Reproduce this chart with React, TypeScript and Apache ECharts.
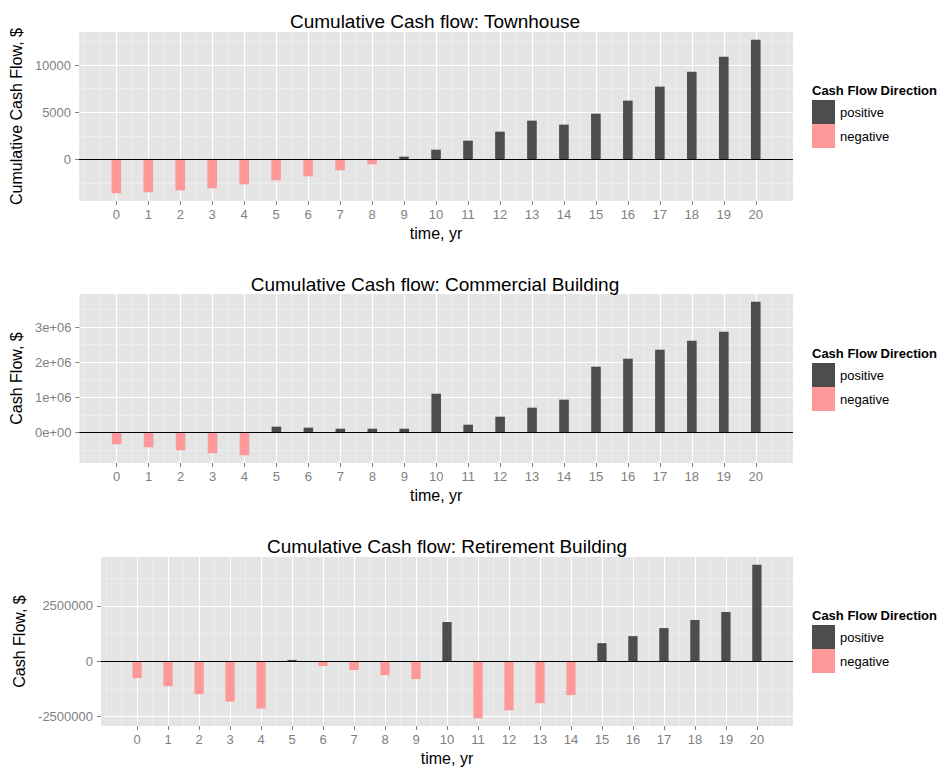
import React, { useEffect, useRef } from "react";
import * as echarts from "echarts";

// ---------- data ----------
const years = [0, 1, 2, 3, 4, 5, 6, 7, 8, 9, 10, 11, 12, 13, 14, 15, 16, 17, 18, 19, 20];
const yearLabels = years.map((y) => String(y));
const xMinorTicks = [-1, -0.5, 0.5, 1.5, 2.5, 3.5, 4.5, 5.5, 6.5, 7.5, 8.5, 9.5, 10.5, 11.5, 12.5, 13.5, 14.5, 15.5, 16.5, 17.5, 18.5, 19.5, 20.5, 21];

const townhouse = [-3560, -3450, -3240, -3030, -2610, -2190, -1760, -1130, -495, 317, 1057, 2008, 2960, 4123, 3700, 4863, 6237, 7717, 9302, 10888, 12685];
const commercial = [-342000, -427000, -513000, -598000, -655000, 161000, 133000, 104000, 104000, 104000, 1100000, 218000, 446000, 703000, 931000, 1871000, 2099000, 2355000, 2612000, 2868000, 3723000];
const retirement = [-758000, -1121000, -1485000, -1818000, -2136000, 60000, -212000, -394000, -621000, -803000, 1773000, -2576000, -2212000, -1894000, -1530000, 818000, 1136000, 1500000, 1864000, 2227000, 4364000];

const titles = [
  "Cumulative Cash flow: Townhouse",
  "Cumulative Cash flow: Commercial Building",
  "Cumulative Cash flow: Retirement Building",
];
const yNames = ["Cumulative Cash Flow, $", "Cash Flow, $", "Cash Flow, $"];

const townhouseYTicks = [0, 5000, 10000];
const townhouseYLabels = ["0", "5000", "10000"];
const townhouseYMinor = [-2500, 2500, 7500, 12500];

const commercialYTicks = [0, 1000000, 2000000, 3000000];
const commercialYLabels = ["0e+00", "1e+06", "2e+06", "3e+06"];
const commercialYMinor = [-500000, 500000, 1500000, 2500000, 3500000];

const retirementYTicks = [-2500000, 0, 2500000];
const retirementYLabels = ["-2500000", "0", "2500000"];
const retirementYMinor = [-1250000, 1250000, 3750000];

const legendTitle = "Cash Flow Direction";
const legendNames = ["positive", "negative"];

// ---------- styling / layout ----------
const FONT = "'Liberation Sans', Arial, Helvetica, sans-serif";
const POS_COLOR = "#4d4d4d";
const NEG_COLOR = "#ff9999";
const PANEL_BG = "#e5e5e5";
const MINOR_COLOR = "#f2f2f2";
const GREY50 = "#7f7f7f";

const layouts = [
  { left: 77, top: 32, width: 716, height: 169, nameGap: 46, titleX: 435, titleY: 21, legTitleY: 90, legTop: 100 },
  { left: 78, top: 294, width: 715, height: 169, nameGap: 47, titleX: 435, titleY: 284, legTitleY: 353, legTop: 363 },
  { left: 101, top: 557, width: 692, height: 169, nameGap: 72, titleX: 447, titleY: 546, legTitleY: 615.5, legTop: 625 },
];

const panelData = [
  { values: townhouse, ticks: townhouseYTicks, labels: townhouseYLabels, minor: townhouseYMinor },
  { values: commercial, ticks: commercialYTicks, labels: commercialYLabels, minor: commercialYMinor },
  { values: retirement, ticks: retirementYTicks, labels: retirementYLabels, minor: retirementYMinor },
];

const BAR_W = 0.3; // in x units
// ggplot-like 5% expansion of limits
const xLo = years[0] - BAR_W / 2;
const xHi = years[years.length - 1] + BAR_W / 2;
const xMin = xLo - 0.05 * (xHi - xLo);
const xMax = xHi + 0.05 * (xHi - xLo);

function buildOption() {
  const grid: any[] = [];
  const xAxis: any[] = [];
  const yAxis: any[] = [];
  const series: any[] = [];
  const legend: any[] = [];
  const graphic: any[] = [];

  panelData.forEach((p, i) => {
    const L = layouts[i];
    const lo = Math.min(0, ...p.values);
    const hi = Math.max(0, ...p.values);
    const yMin = lo - 0.05 * (hi - lo);
    const yMax = hi + 0.05 * (hi - lo);

    grid.push({
      left: L.left,
      top: L.top,
      width: L.width,
      height: L.height,
      show: true,
      backgroundColor: PANEL_BG,
      borderWidth: 0,
      containLabel: false,
    });

    // minor x axis (index 2i)
    xAxis.push({
      type: "value",
      gridIndex: i,
      position: "top",
      min: xMin,
      max: xMax,
      z: 0,
      axisLine: { show: false, onZero: false },
      axisTick: { show: false, customValues: xMinorTicks },
      axisLabel: { show: false, customValues: xMinorTicks },
      splitLine: { show: true, lineStyle: { color: MINOR_COLOR, width: 0.6 } },
    });
    // major x axis (index 2i+1)
    xAxis.push({
      type: "value",
      gridIndex: i,
      position: "bottom",
      min: xMin,
      max: xMax,
      z: 1,
      name: "time, yr",
      nameLocation: "middle",
      nameGap: 24,
      nameTextStyle: { color: "#000", fontSize: 16, fontFamily: FONT },
      axisLine: { show: false, onZero: false },
      axisTick: { show: true, length: 4, customValues: years, lineStyle: { color: GREY50, width: 1 } },
      axisLabel: {
        show: true,
        customValues: years,
        color: GREY50,
        fontSize: 13,
        fontFamily: FONT,
        margin: 7,
        formatter: (v: number) => yearLabels[years.indexOf(v)] ?? String(v),
      },
      splitLine: { show: true, lineStyle: { color: "#ffffff", width: 1.1 } },
    });

    // minor y axis
    yAxis.push({
      type: "value",
      gridIndex: i,
      position: "right",
      min: yMin,
      max: yMax,
      z: 0,
      axisLine: { show: false, onZero: false },
      axisTick: { show: false, customValues: p.minor },
      axisLabel: { show: false, customValues: p.minor },
      splitLine: { show: true, lineStyle: { color: MINOR_COLOR, width: 0.6 } },
    });
    // major y axis
    yAxis.push({
      type: "value",
      gridIndex: i,
      position: "left",
      min: yMin,
      max: yMax,
      z: 1,
      name: yNames[i],
      nameLocation: "middle",
      nameGap: L.nameGap,
      nameTextStyle: { color: "#000", fontSize: 16, fontFamily: FONT },
      axisLine: { show: false, onZero: false },
      axisTick: { show: true, length: 4, customValues: p.ticks, lineStyle: { color: GREY50, width: 1 } },
      axisLabel: {
        show: true,
        customValues: p.ticks,
        color: GREY50,
        fontSize: 13,
        fontFamily: FONT,
        margin: 8,
        formatter: (v: number) => {
          const k = p.ticks.indexOf(v);
          return k >= 0 ? p.labels[k] : String(v);
        },
      },
      splitLine: { show: true, lineStyle: { color: "#ffffff", width: 1.1 } },
    });

    const barPx = (BAR_W * L.width) / (xMax - xMin);
    const posData: any[] = [];
    const negData: any[] = [];
    p.values.forEach((v, k) => {
      if (v >= 0) posData.push([years[k], v]);
      else negData.push([years[k], v]);
    });

    series.push({
      type: "bar",
      name: legendNames[0],
      xAxisIndex: 2 * i + 1,
      yAxisIndex: 2 * i + 1,
      data: posData,
      barWidth: barPx,
      barGap: "-100%",
      itemStyle: { color: POS_COLOR },
      z: 2,
      silent: true,
    });
    series.push({
      type: "bar",
      name: legendNames[1],
      xAxisIndex: 2 * i + 1,
      yAxisIndex: 2 * i + 1,
      data: negData,
      barWidth: barPx,
      barGap: "-100%",
      itemStyle: { color: NEG_COLOR },
      z: 2,
      silent: true,
      markLine: {
        silent: true,
        symbol: ["none", "none"],
        label: { show: false },
        lineStyle: { color: "#000000", width: 1.2, type: "solid" },
        data: [{ yAxis: 0 }],
      },
    });

    legend.push({
      orient: "vertical",
      left: 812,
      top: L.legTop,
      padding: 0,
      itemWidth: 23,
      itemHeight: 24,
      itemGap: 0,
      icon: "rect",
      selectedMode: false,
      data: legendNames,
      textStyle: { color: "#000", fontSize: 13, fontFamily: FONT },
    });

    graphic.push({
      type: "text",
      x: L.titleX,
      y: L.titleY,
      silent: true,
      style: {
        text: titles[i],
        fill: "#000",
        font: `19px ${FONT}`,
        textAlign: "center",
        textVerticalAlign: "middle",
        align: "center",
        verticalAlign: "middle",
      },
    });
    graphic.push({
      type: "text",
      x: 812,
      y: L.legTitleY,
      silent: true,
      style: {
        text: legendTitle,
        fill: "#000",
        font: `bold 13px ${FONT}`,
        textAlign: "left",
        textVerticalAlign: "middle",
        align: "left",
        verticalAlign: "middle",
      },
    });
  });

  return {
    animation: false,
    backgroundColor: "#ffffff",
    textStyle: { fontFamily: FONT },
    grid,
    xAxis,
    yAxis,
    series,
    legend,
    graphic,
  };
}

export default function App() {
  const ref = useRef<HTMLDivElement | null>(null);
  useEffect(() => {
    if (!ref.current) return;
    const chart = echarts.init(ref.current, null, { renderer: "svg" });
    chart.setOption(buildOption() as any);
    return () => chart.dispose();
  }, []);
  return (
    <div
      ref={ref}
      style={{ position: "fixed", left: 0, top: 0, width: 946, height: 769, background: "#fff" }}
    />
  );
}
